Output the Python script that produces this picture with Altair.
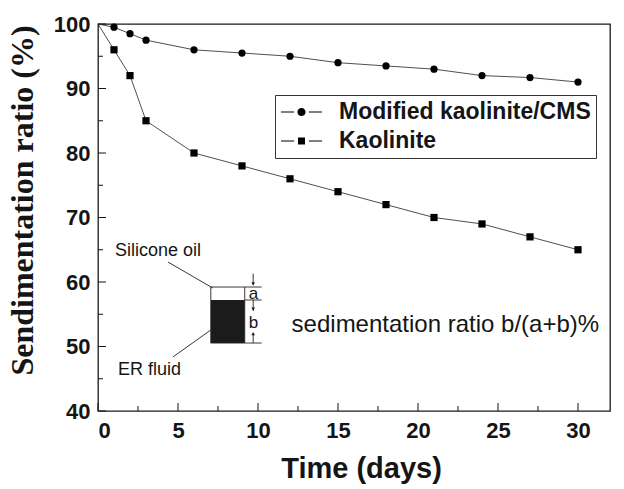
import altair as alt
import pandas as pd

# Sedimentation data (time in days, sedimentation ratio in %)
days = [0, 1, 2, 3, 6, 9, 12, 15, 18, 21, 24, 27, 30]
modified_cms = [100, 99.5, 98.5, 97.5, 96.0, 95.5, 95.0, 94.0, 93.5, 93.0, 92.0, 91.7, 91.0]
kaolinite = [100, 96.0, 92.0, 85.0, 80.0, 78.0, 76.0, 74.0, 72.0, 70.0, 69.0, 67.0, 65.0]
series_names = ["Modified kaolinite/CMS", "Kaolinite"]

x_major = [0, 5, 10, 15, 20, 25, 30]
x_minor = [2.5, 7.5, 12.5, 17.5, 22.5, 27.5]
y_major = [40, 50, 60, 70, 80, 90, 100]
y_minor = [45, 55, 65, 75, 85, 95]

W, H = 512, 387
SANS = "Liberation Sans"
SERIF = "Liberation Serif"
INK = "#151515"

rows = []
for name, vals in zip(series_names, [modified_cms, kaolinite]):
    for t, r in zip(days, vals):
        rows.append({"series": name, "t": t, "r": r})
df = pd.DataFrame(rows)

x_scale = alt.Scale(domain=[0, 32], nice=False, zero=False)
y_scale = alt.Scale(domain=[40, 100], nice=False, zero=False)

X = alt.X("t:Q", scale=x_scale, title="Time (days)",
          axis=alt.Axis(values=x_major, tickSize=0, labelPadding=9, domain=False, grid=False,
                        labelFont=SANS, labelFontWeight="bold", labelFontSize=22, labelColor=INK,
                        titleFont=SANS, titleFontWeight="bold", titleFontSize=29, titleColor=INK,
                        titlePadding=13, titleX=263))
Y = alt.Y("r:Q", scale=y_scale, title="Sendimentation ratio (%)",
          axis=alt.Axis(values=y_major, tickSize=0, labelPadding=8, domain=False, grid=False,
                        labelFont=SANS, labelFontWeight="bold", labelFontSize=22, labelColor=INK,
                        titleFont=SERIF, titleFontWeight="bold", titleFontSize=32, titleColor=INK,
                        titlePadding=14, titleY=176))

base = alt.Chart(df)

lines = base.mark_line(color="#222", strokeWidth=0.8).encode(x=X, y=Y, detail="series:N")

points = base.transform_filter("datum.t > 0").mark_point(
    filled=True, color="black", opacity=1, size=52
).encode(
    x=alt.X("t:Q", scale=x_scale), y=alt.Y("r:Q", scale=y_scale),
    shape=alt.Shape("series:N", scale=alt.Scale(domain=series_names, range=["circle", "square"]),
                    legend=None),
)

# legend symbols: short line - marker - short line (lines drawn as thin filled bars)
dash_pair = ("M-1,-0.028L-0.36,-0.028L-0.36,0.028L-1,0.028Z"
             "M0.36,-0.028L1,-0.028L1,0.028L0.36,0.028Z")
circle_sym = dash_pair + "M0.2,0A0.2,0.2 0 1,1 -0.2,0A0.2,0.2 0 1,1 0.2,0Z"
square_sym = dash_pair + "M-0.17,-0.17L0.17,-0.17L0.17,0.17L-0.17,0.17Z"

legend_layer = base.mark_point(filled=True, color="black", opacity=0).encode(
    x=alt.X("t:Q", scale=x_scale), y=alt.Y("r:Q", scale=y_scale),
    shape=alt.Shape(
        "series:N",
        scale=alt.Scale(domain=series_names, range=[circle_sym, square_sym]),
        legend=alt.Legend(
            title=None, orient="none", legendX=177, legendY=71,
            padding=5, strokeColor="#333", symbolSize=1681, clipHeight=24, rowPadding=5,
            labelOffset=16, labelFont=SANS, labelFontWeight="bold", labelFontSize=23,
            labelColor=INK, labelLimit=400,
            symbolFillColor="black", symbolOpacity=1,
        ),
    ),
)

# inward axis ticks
def tick_rules(vals, axis, length):
    d = pd.DataFrame({"v": vals})
    c = alt.Chart(d).mark_rule(color=INK, strokeWidth=1)
    if axis == "x":
        return c.encode(x=alt.X("v:Q", scale=x_scale), y=alt.value(H), y2=alt.value(H - length))
    return c.encode(y=alt.Y("v:Q", scale=y_scale), x=alt.value(0), x2=alt.value(length))

ticks = [tick_rules(x_major, "x", 8), tick_rules(x_minor, "x", 5),
         tick_rules(y_major, "y", 8), tick_rules(y_minor, "y", 5)]

# inset sketch of a settled sample
beaker_t = [7.05, 9.17]
beaker_top, fluid_top, beaker_bottom = 59.22, 57.21, 50.54

fluid = alt.Chart(pd.DataFrame({"t1": [beaker_t[0]], "t2": [beaker_t[1]],
                                "r1": [beaker_bottom], "r2": [fluid_top]})).mark_rect(
    color="#1b1b1b").encode(x=alt.X("t1:Q", scale=x_scale), x2="t2:Q",
                             y=alt.Y("r1:Q", scale=y_scale), y2="r2:Q")
outline = alt.Chart(pd.DataFrame({"t1": [beaker_t[0]], "t2": [beaker_t[1]],
                                  "r1": [beaker_bottom], "r2": [beaker_top]})).mark_rect(
    fillOpacity=0, stroke="#222", strokeWidth=0.9).encode(
    x=alt.X("t1:Q", scale=x_scale), x2="t2:Q", y=alt.Y("r1:Q", scale=y_scale), y2="r2:Q")

seg = pd.DataFrame({
    "t1": [9.17, 9.17, 9.17, 4.37, 4.68, 9.70, 9.70, 9.70],
    "t2": [10.23, 10.23, 10.23, 7.17, 7.05, 9.70, 9.70, 9.70],
    "r1": [59.22, 57.21, 50.54, 63.1, 48.37, 61.3, 57.21, 52.0],
    "r2": [59.22, 57.21, 50.54, 59.07, 52.56, 59.5, 55.5, 50.54],
})
segments = alt.Chart(seg).mark_rule(color="#222", strokeWidth=0.9).encode(
    x=alt.X("t1:Q", scale=x_scale), x2="t2:Q", y=alt.Y("r1:Q", scale=y_scale), y2="r2:Q")

heads = pd.DataFrame({"t": [9.70, 9.70, 9.70], "r": [59.7, 55.8, 52.0],
                      "kind": ["down", "down", "up"]})
arrow_heads = alt.Chart(heads).mark_point(filled=True, color="#222", opacity=1, size=14).encode(
    x=alt.X("t:Q", scale=x_scale), y=alt.Y("r:Q", scale=y_scale),
    shape=alt.Shape("kind:N", scale=alt.Scale(domain=["down", "up"],
                                              range=["triangle-down", "triangle-up"]), legend=None))

letters = alt.Chart(pd.DataFrame({"t": [9.72, 9.72], "r": [58.2, 53.7], "s": ["a", "b"]})).mark_text(
    font=SANS, fontSize=17, color=INK, align="center", baseline="middle").encode(
    x=alt.X("t:Q", scale=x_scale), y=alt.Y("r:Q", scale=y_scale), text="s:N")

notes = pd.DataFrame({"t": [1.06, 1.25, 12.1], "r": [64.8, 46.4, 53.3],
                      "s": ["Silicone oil", "ER fluid", "sedimentation ratio b/(a+b)%"]})
note_small = alt.Chart(notes.iloc[:2]).mark_text(
    font=SANS, fontSize=18, color=INK, align="left", baseline="middle").encode(
    x=alt.X("t:Q", scale=x_scale), y=alt.Y("r:Q", scale=y_scale), text="s:N")
note_big = alt.Chart(notes.iloc[2:]).mark_text(
    font=SANS, fontSize=24, color=INK, align="left", baseline="middle").encode(
    x=alt.X("t:Q", scale=x_scale), y=alt.Y("r:Q", scale=y_scale), text="s:N")

chart = alt.layer(
    *ticks, fluid, outline, segments, arrow_heads, letters, note_small, note_big,
    lines, points, legend_layer,
).resolve_scale(shape="independent").properties(
    width=W, height=H,
    autosize=alt.AutoSizeParams(type="none"),
    padding={"left": 98, "top": 24, "right": 14, "bottom": 78},
    background="white",
).configure_view(stroke="#1a1a1a", strokeWidth=1.3)

chart.save("out.html", embed_options={"renderer": "svg", "actions": False})
